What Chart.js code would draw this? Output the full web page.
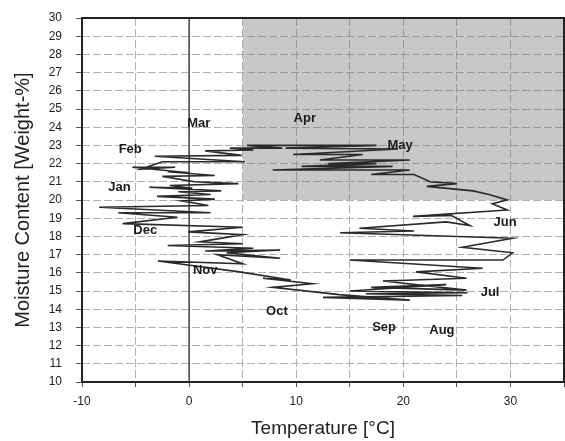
<!DOCTYPE html>
<html>
<head>
<meta charset="utf-8">
<script src="https://cdn.jsdelivr.net/npm/chart.js@4.4.0/dist/chart.umd.min.js"></script>
<style>
  html, body { margin: 0; padding: 0; background: #fff; }
  #wrap { width: 565px; height: 441px; }
</style>
</head>
<body>
<div id="wrap"><canvas id="chart" width="565" height="441"></canvas></div>
<script>
// daily trace (temperature °C, moisture weight-%)
const temperature = [
  -8.4, 1.8, -0.7, 2.4, -3.0, 2.0, -1.0, 3.0, -3.7, 0.3, -1.8, 4.6, 0.5, -2.5, 2.4, -2.0, 0.0, -5.3, -1.3, -4.5, -2.5, 5.2, -3.2, 4.9, 1.5, 6.0,
  3.8, 8.7, 5.4, 17.5, 9.0, 19.5, 9.7, 16.2, 12.2, 20.6, 13.0, 17.5, 10.5, 19.0, 7.8, 20.6, 17.0, 21.0,
  22.5, 25.0, 22.2, 26.5, 28.0, 29.7, 28.3, 29.7, 20.9, 24.5, 26.2, 24.0, 15.9, 21.0, 14.1, 30.2, 25.5, 30.2, 29.3, 15.0,
  27.4, 21.2, 25.9, 18.1, 25.9, 17.0, 24.0, 15.0, 26.0, 16.5, 25.5, 12.5, 20.6, 14.0,
  7.8, 11.5, 6.9, 9.5, 4.7, -2.9, 5.0, 2.6, 8.5, 3.5, 8.5, 1.5, 6.0, -2.0, 5.0, 1.0, 5.0, -0.1, 5.0, -6.2, -1.1, -6.6, 2.0, -8.3
];
const moisture = [
  19.6, 19.7, 19.95, 20.05, 20.2, 20.3, 20.45, 20.5, 20.7, 20.65, 20.8, 20.9, 21.0, 21.3, 21.35, 21.55, 21.5, 21.8, 21.8, 21.7, 22.1, 22.1, 22.4, 22.45, 22.7, 22.75,
  22.85, 22.85, 23.0, 23.0, 22.85, 22.8, 22.5, 22.5, 22.2, 22.2, 22.0, 22.0, 21.85, 21.85, 21.65, 21.65, 21.4, 21.4,
  21.0, 20.9, 20.75, 20.5, 20.3, 20.0, 19.8, 19.45, 19.1, 19.15, 18.6, 18.8, 18.45, 18.3, 18.2, 17.9, 17.4, 17.1, 16.7, 16.7,
  16.25, 16.05, 15.7, 15.55, 15.05, 15.2, 15.35, 15.0, 14.9, 14.85, 14.75, 14.65, 14.5, 14.8,
  15.2, 15.4, 15.7, 15.6, 16.05, 16.65, 16.5, 17.0, 16.8, 17.1, 17.25, 17.2, 17.35, 17.5, 17.6, 17.7, 18.1, 18.25, 18.5, 18.7, 19.05, 19.3, 19.3, 19.6
];

const monthNames = ['Jan', 'Feb', 'Mar', 'Apr', 'May', 'Jun', 'Jul', 'Aug', 'Sep', 'Oct', 'Nov', 'Dec'];
const monthTemp = [-6.5, -5.5, 0.9, 10.8, 19.7, 29.5, 28.1, 23.6, 18.2, 8.2, 1.5, -4.1];
const monthMoisture = [20.7, 22.8, 24.23, 24.5, 23.0, 18.75, 14.9, 12.85, 13.0, 13.9, 16.15, 18.35];

// shaded zone
const shadeTemp = [5, 35];
const shadeTop = 30;
const shadeBase = 20;

// reference line at 0 °C
const zeroTemp = [0, 0];
const zeroMoisture = [10, 30];

const xLabelTicks = [-10, 0, 10, 20, 30];

const trace = temperature.map((t, i) => ({ x: t, y: moisture[i] }));

const monthLabelsPlugin = {
  id: 'monthLabels',
  afterDatasetsDraw(chart) {
    const { ctx, scales } = chart;
    ctx.save();
    ctx.font = 'bold 13px "Liberation Sans", Arial, sans-serif';
    ctx.fillStyle = '#1a1a1a';
    ctx.textAlign = 'center';
    ctx.textBaseline = 'middle';
    monthNames.forEach((m, i) => {
      ctx.fillText(m, scales.x.getPixelForValue(monthTemp[i]), scales.y.getPixelForValue(monthMoisture[i]));
    });
    ctx.restore();
  }
};

const frame = {
  id: 'frame',
  afterDatasetsDraw(chart) {
    const a = chart.chartArea;
    const ctx = chart.ctx;
    ctx.save();
    ctx.strokeStyle = '#222';
    ctx.lineWidth = 2;
    ctx.strokeRect(a.left, a.top, a.right - a.left, a.bottom - a.top);
    ctx.restore();
  }
};

const font = { size: 12, family: '"Liberation Sans", Arial, sans-serif' };

new Chart(document.getElementById('chart'), {
  type: 'scatter',
  data: {
    datasets: [
      {
        data: trace,
        showLine: true,
        borderColor: '#2a2a2a',
        borderWidth: 1.6,
        pointRadius: 0,
        tension: 0,
      },
      {
        data: zeroTemp.map((t, i) => ({ x: t, y: zeroMoisture[i] })),
        showLine: true,
        borderColor: '#444',
        borderWidth: 1.5,
        pointRadius: 0,
      },
      {
        data: shadeTemp.map(t => ({ x: t, y: shadeTop })),
        showLine: true,
        borderWidth: 0,
        pointRadius: 0,
        backgroundColor: 'rgba(110,110,110,0.38)',
        fill: { value: shadeBase },
      }
    ]
  },
  options: {
    responsive: false,
    animation: false,
    layout: { padding: { top: 18, right: 1, left: 0, bottom: 0 } },
    plugins: { legend: { display: false }, tooltip: { enabled: false } },
    scales: {
      x: {
        type: 'linear',
        min: -10,
        max: 35,
        afterFit: s => { s.height = 59; s.paddingLeft = 0; s.paddingRight = 0; },
        border: { display: false, dash: [8, 3] },
        grid: { color: '#b0b0b0', lineWidth: 1, tickLength: 5, tickColor: '#555' },
        ticks: {
          stepSize: 5,
          padding: 7,
          color: '#222',
          font,
          callback: v => xLabelTicks.includes(v) ? v : ''
        },
        title: {
          display: true,
          text: 'Temperature [°C]',
          color: '#222',
          font: { size: 19, family: font.family },
          padding: { top: 2, bottom: 1 }
        }
      },
      y: {
        min: 10,
        max: 30,
        afterFit: s => { s.width = 82; s.paddingTop = 0; s.paddingBottom = 0; },
        border: { display: false, dash: [8, 3] },
        grid: { color: '#b0b0b0', lineWidth: 1, tickLength: 6, tickColor: '#555' },
        ticks: {
          stepSize: 1,
          padding: 14,
          color: '#222',
          font
        },
        title: {
          display: true,
          text: 'Moisture Content [Weight-%]',
          color: '#222',
          font: { size: 20, family: font.family },
          padding: { top: 11, bottom: 2 }
        }
      }
    }
  },
  plugins: [monthLabelsPlugin, frame]
});
</script>
</body>
</html>
